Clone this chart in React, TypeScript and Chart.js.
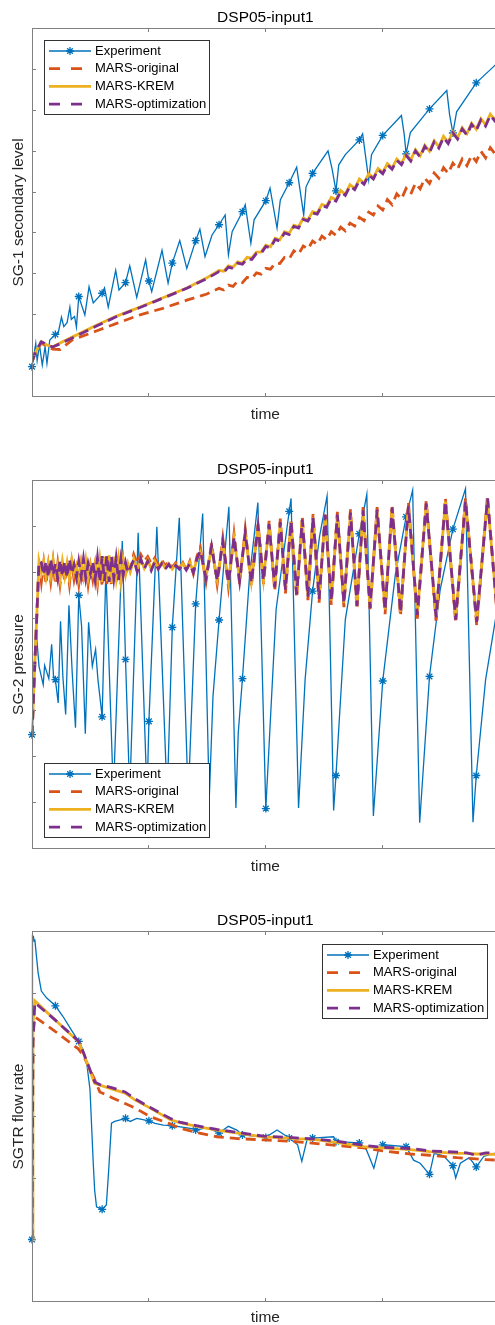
import React, { useEffect, useRef } from 'react';
import { Chart, registerables } from 'chart.js';

Chart.register(...registerables);

const FONT = '"Liberation Sans", Arial, Helvetica, sans-serif';
Chart.defaults.font.family = FONT;

// ---------- text ----------
const chartTitle = 'DSP05-input1';
const xLabel = 'time';
const seriesLabels = ['Experiment', 'MARS-original', 'MARS-KREM', 'MARS-optimization'];
const yLabels = ['SG-1 secondary level', 'SG-2 pressure', 'SGTR flow rate'];

// ---------- ticks (no tick labels are shown) ----------
const xTicks = [0, 25, 50, 75, 100];
const p1YTicks = [1, 2, 3, 4, 5, 6, 7, 8];
const p2YTicks = [1, 2, 3, 4, 5, 6, 7];
const p3YTicks = [1, 2, 3, 4, 5];

// ---------- panel 1 : SG-1 secondary level ----------
const p1ExpT = [0, 0.8, 1.1, 1.6, 2.2, 2.8, 3.2, 3.8, 5, 5.6, 6.3, 6.8, 7.5, 8.1, 8.4, 9.1, 9.5, 10, 11.3, 12.2, 13.1, 15, 15.5, 16.3, 17.9, 18.6, 20, 20.9, 22.4, 24.3, 25, 25.6, 27.8, 29.1, 30, 31.6, 33.1, 35, 35.9, 37.0, 38.5, 40, 41.3, 42.0, 42.8, 45, 45.6, 46.8, 47.5, 50, 50.9, 52.4, 53.1, 55, 56.6, 58.1, 58.6, 60, 63.3, 64.2, 65, 65.6, 67.0, 70, 70.7, 72.0, 72.6, 75, 79.0, 79.6, 80, 80.9, 85, 88.7, 89.3, 90, 90.8, 95, 99.1, 100];
const p1ExpV = [0.72, 1.29, 0.87, 1.25, 0.76, 1.21, 0.80, 1.37, 1.51, 1.54, 1.93, 1.70, 1.80, 2.18, 1.88, 1.95, 1.69, 2.44, 1.99, 2.68, 2.28, 2.52, 2.65, 2.18, 3.08, 2.60, 2.78, 3.19, 2.42, 3.34, 2.82, 2.56, 3.57, 2.77, 3.26, 3.81, 3.13, 3.81, 4.09, 3.42, 3.95, 4.20, 4.44, 3.46, 4.03, 4.52, 4.69, 3.75, 4.32, 4.79, 5.10, 4.12, 4.81, 5.23, 5.61, 4.44, 5.13, 5.46, 6.01, 5.55, 5.03, 5.67, 5.92, 6.28, 6.43, 5.30, 5.92, 6.39, 6.88, 6.41, 5.94, 6.46, 7.04, 7.49, 6.90, 6.45, 6.97, 7.68, 8.12, 8.22];

const p1ModelT = [0, 0.8, 2, 3.2, 4.4, 6, 8.7, 13.9, 18.1, 23.1, 28, 33.1, 37.4,
  40, 41, 42, 43, 44, 45, 46, 47, 48, 49, 50, 51, 52, 53, 54, 55, 56, 57, 58, 59,
  60, 61, 62, 63, 64, 65, 66, 67, 68, 69, 70, 71, 72, 73, 74, 75, 76, 77, 78, 79,
  80, 81, 82, 83, 84, 85, 86, 87, 88, 89, 90, 91, 92, 93, 94, 95, 96, 97, 98, 99, 100];
const p1OrigV = [0.84, 1.08, 1.30, 1.22, 1.15, 1.14, 1.38, 1.60, 1.78, 1.99, 2.15, 2.35, 2.50,
  2.64, 2.60, 2.72, 2.69, 2.82, 2.78, 2.91, 2.88, 3.02, 2.99,
  3.13, 3.11, 3.26, 3.25, 3.40, 3.36, 3.56, 3.48, 3.68, 3.60,
  3.80, 3.72, 3.92, 3.83, 4.03, 3.94, 4.14, 4.05, 4.24, 4.17,
  4.38, 4.30, 4.51, 4.44, 4.66, 4.56, 4.82, 4.69, 4.96, 4.83,
  5.09, 4.95, 5.22, 5.08, 5.34, 5.21, 5.47, 5.34, 5.60, 5.46,
  5.71, 5.56, 5.81, 5.65, 5.90, 5.75, 6.00, 5.84, 6.09, 5.94, 6.18];
const p1KremV = [0.84, 1.08, 1.33, 1.25, 1.20, 1.30, 1.45, 1.74, 1.96, 2.18, 2.41, 2.65, 2.90,
  3.08, 3.06, 3.19, 3.16, 3.29, 3.26, 3.40, 3.38, 3.53, 3.53,
  3.70, 3.66, 3.87, 3.83, 4.03, 3.99, 4.19, 4.15, 4.36, 4.32,
  4.52, 4.49, 4.70, 4.66, 4.87, 4.81, 5.04, 4.95, 5.18, 5.09,
  5.32, 5.22, 5.45, 5.35, 5.58, 5.48, 5.70, 5.59, 5.81, 5.70,
  5.93, 5.79, 6.04, 5.89, 6.15, 6.00, 6.26, 6.11, 6.37, 6.22,
  6.48, 6.33, 6.58, 6.43, 6.69, 6.54, 6.80, 6.65, 6.91, 6.77, 7.02];
const p1OptV = [0.84, 1.10, 1.33, 1.26, 1.20, 1.28, 1.43, 1.72, 1.95, 2.17, 2.40, 2.64, 2.88,
  3.05, 3.03, 3.16, 3.13, 3.26, 3.23, 3.37, 3.35, 3.50, 3.50,
  3.67, 3.63, 3.84, 3.80, 4.00, 3.96, 4.16, 4.12, 4.33, 4.29,
  4.49, 4.46, 4.67, 4.63, 4.84, 4.78, 5.01, 4.92, 5.15, 5.06,
  5.29, 5.19, 5.42, 5.32, 5.55, 5.45, 5.67, 5.56, 5.78, 5.67,
  5.90, 5.76, 6.01, 5.86, 6.12, 5.97, 6.23, 6.08, 6.34, 6.19,
  6.45, 6.30, 6.55, 6.40, 6.66, 6.51, 6.77, 6.62, 6.88, 6.74, 6.99];

// ---------- panel 2 : SG-2 pressure ----------
const p2ExpT = [0, 0.8, 1.5, 2.4, 2.7, 3.6, 4.2, 4.6, 5, 5.6, 6.1, 6.6, 7.2, 7.9, 8.6, 9.3, 10, 10.6, 11.4, 12.1, 12.9, 13.6, 14.1, 15, 15.8, 17.4, 19.3, 20, 20.9, 22.7, 24.6, 25, 26.7, 28.9, 30, 31.5, 33.4, 35, 36.5, 37.9, 38.7, 40, 42.1, 43.6, 44.1, 45, 46.5, 48.3, 50, 52.2, 55, 55.4, 57.0, 58.4, 60, 61.5, 63.1, 64.5, 65, 67.0, 70, 71.6, 73.0, 75, 77.7, 80, 81.4, 82.9, 85, 87.3, 90, 92.7, 94.3, 95, 97.0, 99.1, 100];
const p2ExpV = [2.47, 4.84, 3.96, 3.56, 3.98, 3.69, 4.44, 3.75, 3.67, 3.16, 4.94, 3.74, 2.91, 5.29, 3.82, 2.62, 5.51, 4.84, 2.49, 4.92, 3.96, 4.33, 3.67, 2.86, 6.08, 1.17, 6.69, 4.11, 1.17, 6.87, 1.12, 2.76, 7.0, 1.1, 4.81, 7.2, 1.06, 5.32, 7.29, 1.05, 3.3, 4.97, 7.44, 0.87, 2.5, 3.69, 5.9, 7.53, 0.86, 5.2, 7.34, 7.62, 0.87, 3.67, 5.6, 6.8, 7.67, 0.82, 1.58, 4.98, 6.85, 7.71, 0.70, 3.64, 5.96, 7.22, 7.80, 0.55, 3.74, 5.64, 6.95, 7.83, 0.56, 1.58, 3.67, 4.98, 5.3];

const p2ModelT = [0, 0.6, 1.5,
  2, 2.5, 3, 3.5, 4, 4.5, 5, 5.5, 6, 6.5, 7, 7.5, 8, 8.5, 9, 9.5, 10, 10.5, 11, 11.5, 12, 12.5, 13, 13.5, 14, 14.5, 15, 15.5, 16, 16.5, 17, 17.5, 18, 18.5, 19, 19.5, 20, 20.5, 21,
  21.75, 22.5, 23.25, 24, 24.75, 25.5, 26.25, 27, 27.75, 28.5, 29.25, 30, 30.75, 31.5, 32.25, 33, 33.75, 34.5, 35.25,
  36, 37.2, 38.4, 39.6, 40.8, 42, 43.2, 44.4, 45.6, 46.9,
  48.35, 49.5, 50.7, 51.9, 53.1, 54.2, 55.4, 56.6, 57.8, 59, 60.1, 61.4, 62.7, 64, 65.3, 66.7, 68.1, 69.5, 70.8, 72.3, 73.8, 75.5, 77, 78.8, 80.5, 82.4, 84.3, 86.4, 88.4, 90.6, 92.7, 95.1, 97.4, 99.8];
const p2OrigV = [2.45, 4.0, 6.25,
  5.80, 6.22, 5.75, 6.18, 5.80, 6.25, 5.75, 6.20, 5.75, 6.18, 5.80, 6.18, 5.75, 6.22, 5.85, 6.10, 5.75, 6.18, 5.80, 6.22, 5.75, 6.15, 5.85, 6.18, 5.75, 6.30, 5.70, 6.32, 5.75, 6.35, 5.70, 6.32, 5.80, 6.30, 5.75, 6.28, 5.90, 6.22, 6.05,
  6.40, 6.20, 6.40, 6.25, 6.35, 6.20, 6.32, 6.18, 6.28, 6.15, 6.25, 6.12, 6.22, 6.10, 6.22, 6.05, 6.25, 5.98, 6.35,
  6.55, 5.80, 6.65, 5.75, 6.75, 5.70, 6.85, 5.75, 6.95, 5.70,
  7.08, 5.75, 7.13, 5.60, 7.18, 5.55, 7.18, 5.45, 7.23, 5.40, 7.28, 5.35, 7.33, 5.30, 7.33, 5.25, 7.38, 5.20, 7.43, 5.15, 7.43, 5.10, 7.48, 5.05, 7.53, 5.00, 7.58, 4.95, 7.63, 4.90, 7.63, 4.85, 7.68, 4.65];
const p2KremV = [2.45, 4.0, 6.25,
  6.00, 6.25, 5.90, 6.20, 5.92, 6.28, 5.95, 6.18, 5.85, 6.25, 5.92, 6.22, 5.88, 6.28, 5.98, 6.15, 5.88, 6.22, 5.92, 6.28, 5.88, 6.18, 5.98, 6.22, 5.85, 6.30, 5.80, 6.35, 5.82, 6.38, 5.78, 6.35, 5.88, 6.30, 5.82, 6.28, 5.95, 6.20, 6.02,
  6.30, 6.05, 6.30, 6.10, 6.28, 6.08, 6.25, 6.10, 6.22, 6.10, 6.20, 6.08, 6.18, 6.10, 6.20, 6.08, 6.22, 6.02, 6.28,
  6.45, 5.90, 6.55, 5.85, 6.65, 5.80, 6.75, 5.85, 6.85, 5.80,
  7.00, 5.85, 7.05, 5.70, 7.10, 5.65, 7.10, 5.55, 7.15, 5.50, 7.20, 5.45, 7.25, 5.40, 7.25, 5.35, 7.30, 5.30, 7.35, 5.25, 7.35, 5.20, 7.40, 5.15, 7.45, 5.10, 7.50, 5.05, 7.55, 5.00, 7.55, 4.95, 7.60, 4.75];
const p2OptV = [2.45, 4.0, 6.25,
  6.22, 5.95, 6.25, 5.90, 6.30, 5.95, 6.20, 5.88, 6.28, 5.92, 6.25, 5.90, 6.30, 5.98, 6.18, 5.90, 6.25, 5.92, 6.30, 5.88, 6.20, 5.98, 6.25, 5.85, 6.32, 5.80, 6.36, 5.82, 6.38, 5.80, 6.36, 5.88, 6.32, 5.84, 6.30, 5.95, 6.22, 6.00, 6.10,
  6.28, 6.02, 6.30, 6.08, 6.25, 6.05, 6.24, 6.08, 6.20, 6.08, 6.18, 6.06, 6.16, 6.08, 6.18, 6.06, 6.20, 6.00, 6.30,
  6.48, 5.88, 6.58, 5.82, 6.68, 5.78, 6.78, 5.82, 6.88, 5.78,
  7.02, 5.83, 7.06, 5.68, 7.11, 5.63, 7.12, 5.53, 7.16, 5.48, 7.21, 5.43, 7.26, 5.38, 7.27, 5.33, 7.31, 5.28, 7.36, 5.23, 7.37, 5.18, 7.42, 5.13, 7.46, 5.08, 7.51, 5.03, 7.56, 4.98, 7.57, 4.93, 7.62, 4.73];

// ---------- panel 3 : SGTR flow rate ----------
const p3ExpT = [0, 0.1, 0.3, 0.45, 0.6, 1.3, 2.0, 3.1, 5, 6.6, 8.4, 10, 10.9, 11.7, 12.4, 13.1, 13.4, 13.8, 15, 15.9, 16.4, 17.0, 17.7, 20, 21.0, 22.4, 25, 26.3, 28.1, 30, 34.5, 35, 37.5, 40, 42, 43.8, 45, 50, 52.4, 55, 56.8, 57.7, 58.8, 60, 64.5, 65, 70, 71.5, 73.1, 74.1, 75, 80, 81.6, 83, 85, 86, 88, 90, 90.6, 91.6, 93.5, 95, 96.6, 98.8, 100];
const p3ExpV = [1.0, 5.94, 5.93, 5.85, 5.88, 5.34, 5.04, 4.93, 4.80, 4.63, 4.41, 4.22, 4.09, 3.87, 3.44, 2.24, 1.80, 1.53, 1.49, 1.56, 2.13, 2.89, 2.92, 2.97, 2.92, 2.97, 2.93, 2.89, 2.86, 2.85, 2.80, 2.78, 2.82, 2.73, 2.84, 2.78, 2.70, 2.66, 2.78, 2.65, 2.54, 2.27, 2.62, 2.65, 2.67, 2.59, 2.57, 2.46, 2.16, 2.46, 2.54, 2.51, 2.29, 2.24, 2.06, 2.40, 2.36, 2.20, 2.00, 2.24, 2.33, 2.18, 2.35, 2.40, 2.41];

const p3ModelT = [0, 0.2, 0.6, 4.5, 9.9, 11, 13.4, 14.5, 17, 19.9, 22, 25.2, 29.5, 31.6, 35.2, 39.5, 44, 49.5, 55, 60.9, 65, 70.9, 75, 80.9, 85, 90.9, 93, 95, 97, 99.8];
const p3OrigV = [1.0, 4.3, 4.62, 4.41, 4.10, 3.99, 3.60, 3.40, 3.31, 3.21, 3.14, 3.00, 2.88, 2.81, 2.74, 2.67, 2.64, 2.62, 2.60, 2.56, 2.53, 2.49, 2.44, 2.39, 2.37, 2.33, 2.32, 2.31, 2.30, 2.29];
const p3KremV = [1.0, 4.5, 4.88, 4.60, 4.22, 4.03, 3.54, 3.51, 3.45, 3.38, 3.27, 3.14, 2.95, 2.90, 2.84, 2.78, 2.73, 2.67, 2.65, 2.62, 2.58, 2.51, 2.49, 2.46, 2.43, 2.40, 2.40, 2.39, 2.39, 2.38];
const p3OptV = [1.0, 4.2, 4.85, 4.60, 4.23, 4.04, 3.56, 3.52, 3.47, 3.40, 3.29, 3.15, 2.97, 2.91, 2.85, 2.79, 2.74, 2.68, 2.66, 2.63, 2.60, 2.53, 2.50, 2.48, 2.44, 2.42, 2.41, 2.37, 2.41, 2.40];

// ---------- styling ----------
const COLORS = ['#0072BD', '#D95319', '#EDB120', '#7E2F8E'];
const AXIS_COLOR = '#808080';
const CANVAS_W = 504;
const CANVAS_H = 452;

const PANELS = [
  { top: 0, yLabel: yLabels[0], yMax: 9, yTicks: p1YTicks, xAxisH: 56,
    expT: p1ExpT, expV: p1ExpV, modelT: p1ModelT, origV: p1OrigV, kremV: p1KremV, optV: p1OptV,
    legend: { corner: 'nw', dx: 12.3, dy: 11 } },
  { top: 452, yLabel: yLabels[1], yMax: 8, yTicks: p2YTicks, xAxisH: 56,
    expT: p2ExpT, expV: p2ExpV, modelT: p2ModelT, origV: p2OrigV, kremV: p2KremV, optV: p2OptV,
    legend: { corner: 'sw', dx: 12.3, dy: 10.4 } },
  { top: 903, yLabel: yLabels[2], yMax: 6, yTicks: p3YTicks, xAxisH: 54,
    expT: p3ExpT, expV: p3ExpV, modelT: p3ModelT, origV: p3OrigV, kremV: p3KremV, optV: p3OptV,
    legend: { corner: 'ne', dx: 11, dy: 12 } },
];

function pts(ts: number[], vs: number[]) {
  return ts.map((t, i) => ({ x: t, y: vs[i] }));
}

function starRadius(ctx: any) {
  const r = ctx.raw;
  if (!r) return 0;
  const k = r.x / 5;
  return Math.abs(k - Math.round(k)) < 1e-6 && r.x < 99 ? 4 : 0;
}

const matlabFrame = {
  id: 'matlabFrame',
  afterDatasetsDraw(chart: any, _a: any, opts: any) {
    const { ctx, chartArea: a } = chart;
    const xs = chart.scales.x;
    const ys = chart.scales.y;
    const L = Math.floor(a.left) + 0.5;
    const R = Math.floor(a.right) + 0.5;
    const T = Math.floor(a.top) + 0.5;
    const B = Math.floor(a.bottom) + 0.5;
    const tl = 3.5;
    ctx.save();
    ctx.strokeStyle = AXIS_COLOR;
    ctx.lineWidth = 1;
    ctx.setLineDash([]);
    ctx.strokeRect(L, T, R - L, B - T);
    ctx.beginPath();
    for (const v of opts.xTicks) {
      const px = Math.floor(xs.getPixelForValue(v)) + 0.5;
      ctx.moveTo(px, B); ctx.lineTo(px, B - tl);
      ctx.moveTo(px, T); ctx.lineTo(px, T + tl);
    }
    for (const v of opts.yTicks) {
      const py = Math.floor(ys.getPixelForValue(v)) + 0.5;
      ctx.moveTo(L, py); ctx.lineTo(L + tl, py);
      ctx.moveTo(R, py); ctx.lineTo(R - tl, py);
    }
    ctx.stroke();
    ctx.restore();
  },
  afterDraw(chart: any, _a: any, opts: any) {
    const lg = opts.legend;
    const a = chart.chartArea;
    const ctx = chart.ctx;
    const w = 165, h = 74;
    const x0 = lg.corner[1] === 'w' ? a.left + lg.dx : a.right - lg.dx - w;
    const y0 = lg.corner[0] === 'n' ? a.top + lg.dy : a.bottom - lg.dy - h;
    const bx = Math.floor(x0) + 0.5;
    const by = Math.floor(y0) + 0.5;
    ctx.save();
    ctx.fillStyle = '#ffffff';
    ctx.fillRect(bx, by, w, h);
    ctx.strokeStyle = '#333333';
    ctx.lineWidth = 1;
    ctx.setLineDash([]);
    ctx.strokeRect(bx, by, w, h);
    chart.data.datasets.forEach((ds: any, i: number) => {
      const cy = by + 10.5 + i * 17.7;
      const sx0 = bx + 4.5;
      const sx1 = bx + 46.5;
      ctx.save();
      ctx.beginPath();
      ctx.rect(bx + 1, by + 1, w - 2, h - 2);
      ctx.clip();
      ctx.strokeStyle = ds.borderColor;
      ctx.lineWidth = ds.borderWidth;
      ctx.setLineDash(ds.borderDash ? [11, 11] : []);
      ctx.beginPath();
      ctx.moveTo(sx0, cy);
      ctx.lineTo(sx1, cy);
      ctx.stroke();
      ctx.setLineDash([]);
      if (ds.pointStyle === 'star') {
        const cx = (sx0 + sx1) / 2;
        const r = 4;
        const d = r * Math.SQRT1_2;
        ctx.lineWidth = ds.pointBorderWidth;
        ctx.beginPath();
        ctx.moveTo(cx - r, cy); ctx.lineTo(cx + r, cy);
        ctx.moveTo(cx, cy - r); ctx.lineTo(cx, cy + r);
        ctx.moveTo(cx - d, cy - d); ctx.lineTo(cx + d, cy + d);
        ctx.moveTo(cx - d, cy + d); ctx.lineTo(cx + d, cy - d);
        ctx.stroke();
      }
      ctx.restore();
      ctx.fillStyle = '#000000';
      ctx.font = `13px ${FONT}`;
      ctx.textBaseline = 'middle';
      ctx.textAlign = 'left';
      ctx.fillText(ds.label, bx + 50.5, cy);
    });
    ctx.restore();
  },
};

function buildConfig(p: any): any {
  const labelFont = { family: FONT, size: 15.5, weight: 'normal', lineHeight: 1.2 };
  return {
    type: 'line',
    data: {
      datasets: [
        { label: seriesLabels[0], data: pts(p.expT, p.expV), borderColor: COLORS[0], borderWidth: 1.3,
          pointStyle: 'star', pointRadius: starRadius, pointHoverRadius: 0, pointBorderColor: COLORS[0],
          pointBackgroundColor: COLORS[0], pointBorderWidth: 1.3, tension: 0, order: 4, clip: false },
        { label: seriesLabels[1], data: pts(p.modelT, p.origV), borderColor: COLORS[1], borderWidth: 2.8,
          borderDash: [10, 6], pointRadius: 0, pointHoverRadius: 0, tension: 0, order: 3 },
        { label: seriesLabels[2], data: pts(p.modelT, p.kremV), borderColor: COLORS[2], borderWidth: 2.8,
          pointRadius: 0, pointHoverRadius: 0, tension: 0, order: 2 },
        { label: seriesLabels[3], data: pts(p.modelT, p.optV), borderColor: COLORS[3], borderWidth: 2.8,
          borderDash: [10, 6], pointRadius: 0, pointHoverRadius: 0, tension: 0, order: 1 },
      ],
    },
    options: {
      animation: false,
      responsive: false,
      devicePixelRatio: 1,
      events: [],
      layout: { padding: { top: 8, right: 2, bottom: 0, left: 0 } },
      plugins: {
        legend: { display: false },
        tooltip: { enabled: false },
        title: {
          display: true, text: chartTitle, fullSize: false, color: '#000000',
          font: { family: FONT, size: 15.5, weight: 'normal', lineHeight: 1.2 },
          padding: { top: 0, bottom: 2.4 },
        },
        matlabFrame: { xTicks, yTicks: p.yTicks, legend: p.legend },
      },
      scales: {
        x: {
          type: 'linear', min: 0, max: 99.8,
          grid: { display: false }, border: { display: false }, ticks: { display: false },
          title: { display: true, text: xLabel, color: '#262626', font: labelFont, padding: { top: 0, bottom: 28.4 } },
          afterFit: (s: any) => { s.height = p.xAxisH; },
        },
        y: {
          type: 'linear', min: 0, max: p.yMax,
          grid: { display: false }, border: { display: false }, ticks: { display: false },
          title: { display: true, text: p.yLabel, color: '#262626', font: labelFont, padding: { top: 9, bottom: 0 } },
          afterFit: (s: any) => { s.width = 32; },
        },
      },
    },
    plugins: [matlabFrame],
  };
}

function Panel({ spec }: { spec: any }) {
  const ref = useRef<HTMLCanvasElement>(null);
  useEffect(() => {
    if (!ref.current) return;
    const chart = new Chart(ref.current, buildConfig(spec));
    return () => chart.destroy();
  }, [spec]);
  return (
    <div style={{ position: 'absolute', left: 0, top: spec.top, width: CANVAS_W, height: CANVAS_H }}>
      <canvas ref={ref} width={CANVAS_W} height={CANVAS_H}
        style={{ display: 'block', width: CANVAS_W, height: CANVAS_H }} />
    </div>
  );
}

export default function App() {
  return (
    <div style={{ position: 'absolute', left: 0, top: 0, width: 495, height: 1325, overflow: 'hidden', background: '#ffffff' }}>
      {PANELS.map((p, i) => <Panel key={i} spec={p} />)}
    </div>
  );
}
